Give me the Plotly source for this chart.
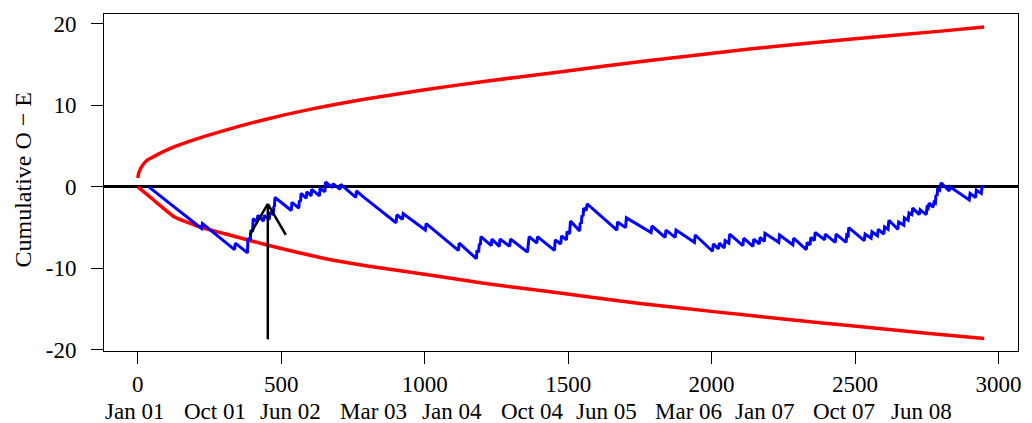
import plotly.graph_objects as go

# ---------------- data ----------------
upper_t = [0, 3, 12, 30, 60, 100, 150, 216, 300, 448, 600, 800, 1000, 1200, 1470, 1784, 2132, 2481, 2800, 2950]
upper_v = [1.1, 1.7, 2.4, 3.2, 3.8, 4.5, 5.2, 6.0, 6.9, 8.3, 9.5, 10.8, 11.9, 12.9, 14.1, 15.5, 16.9, 18.1, 19.1, 19.6]

lower_t = [0, 58, 128, 215, 320, 447, 668, 800, 1017, 1200, 1465, 1750, 2007, 2250, 2505, 2750, 2950]
lower_v = [0, -1.7, -3.7, -4.9, -5.9, -7.1, -8.9, -9.7, -10.8, -11.8, -13.0, -14.3, -15.3, -16.2, -17.1, -17.95, -18.6]

blue_t = [38, 203, 222, 225, 337, 340, 382, 384, 392, 394, 400, 402, 416, 418, 438, 440,
          458, 460, 472, 474, 476, 478, 535, 537, 561, 563, 567, 569, 587, 589, 604, 606,
          633, 635, 652, 654, 678, 680, 705, 707, 760, 762, 785, 900, 903, 922, 925, 1002,
          1005, 1117, 1120, 1180, 1182, 1188, 1190, 1194, 1196, 1232, 1234, 1260, 1262, 1296,
          1299, 1358, 1360, 1362, 1364, 1391, 1393, 1452, 1455, 1474, 1477, 1494, 1496, 1505,
          1508, 1540, 1542, 1546, 1548, 1552, 1554, 1563, 1566, 1670, 1672, 1700, 1703, 1789,
          1792, 1838, 1841, 1873, 1876, 1940, 1943, 2003, 2006, 2024, 2027, 2044, 2047, 2060,
          2063, 2109, 2112, 2144, 2147, 2166, 2169, 2184, 2186, 2234, 2237, 2283, 2286, 2330,
          2333, 2343, 2346, 2358, 2361, 2394, 2396, 2431, 2434, 2469, 2471, 2476, 2478, 2532,
          2535, 2556, 2559, 2578, 2581, 2600, 2603, 2615, 2618, 2649, 2652, 2670, 2672, 2685,
          2688, 2698, 2701, 2724, 2727, 2748, 2751, 2755, 2758, 2772, 2775, 2780, 2782, 2786,
          2788, 2795, 2798, 2800, 2828, 2831, 2898, 2901, 2920, 2923, 2940, 2943, 2950]
blue_v = [0.0, -4.6, -5.1, -4.5, -7.7, -6.9, -8.1, -6.3, -6.5, -5.3, -5.5, -3.9, -4.3, -3.5, -4.2, -3.5,
          -4.0, -3.1, -3.4, -2.4, -2.45, -1.3, -2.9, -1.9, -2.6, -1.7, -1.8, -0.8, -1.4, -0.6, -1.1, -0.3,
          -1.1, -0.2, -0.6, 0.6, -0.1, 0.4, -0.3, 0.3, -1.3, -0.5, -1.2, -4.4, -3.4, -4.0, -3.3, -5.3,
          -4.5, -7.8, -6.9, -8.8, -7.8, -8.0, -7.0, -7.1, -6.1, -7.2, -6.4, -7.3, -6.4, -7.3,
          -6.4, -8.0, -7.0, -7.05, -6.1, -6.9, -6.1, -7.8, -6.5, -7.0, -6.0, -6.5, -5.5, -5.75,
          -4.2, -5.4, -4.4, -4.5, -3.5, -3.6, -2.6, -2.9, -2.1, -5.3, -4.3, -5.0, -3.8, -5.6,
          -4.8, -6.2, -5.3, -6.2, -5.3, -6.8, -5.9, -7.9, -7.0, -7.6, -6.9, -7.5, -6.6, -6.9,
          -5.8, -7.2, -6.3, -7.3, -6.4, -7.0, -6.2, -6.7, -5.7, -6.8, -5.9, -7.1, -6.3, -7.7,
          -6.8, -7.1, -6.2, -6.6, -5.6, -6.5, -5.8, -6.8, -5.8, -6.8, -5.9, -6.0, -5.0, -6.6,
          -5.8, -6.3, -5.5, -6.0, -5.2, -5.8, -4.9, -5.2, -4.1, -5.2, -4.3, -4.7, -3.8, -4.1,
          -3.2, -3.4, -2.6, -3.4, -2.8, -3.4, -2.5, -2.6, -2.0, -2.5, -1.9, -2.0, -1.0, -1.1,
          -0.2, -0.4, 0.5, 0.5, -0.5, 0.0, -1.6, -0.8, -1.3, -0.4, -0.8, 0.1, -0.1]

x_ticks = [0, 500, 1000, 1500, 2000, 2500, 3000]
y_ticks = [-20, -10, 0, 10, 20]

date_pos = [-10, 269, 531, 822, 1094, 1373, 1634, 1920, 2183, 2462, 2732]
date_labels = ["Jan 01", "Oct 01", "Jun 02", "Mar 03", "Jan 04", "Oct 04",
               "Jun 05", "Mar 06", "Jan 07", "Oct 07", "Jun 08"]

arrow_x = 453
arrow_tip = -2.1
arrow_base = -18.7

y_title = "Cumulative O \u2212 E"

# ---------------- layout constants ----------------
# the page body has an 8px default margin, so the figure is sized to fit the window
W, H = 1024, 415
ML, MR, MT, MB = 96, 14, 4, 72
XR = [-118, 3068]
YR = [-20.13, 21.2]
FONT = "Liberation Serif, Times New Roman, serif"
FS = 23

fig = go.Figure()
fig.add_trace(go.Scatter(x=upper_t, y=upper_v, mode="lines",
                         line=dict(color="#ff0000", width=3.5, shape="spline", smoothing=0.6),
                         hoverinfo="skip"))
fig.add_trace(go.Scatter(x=lower_t, y=lower_v, mode="lines",
                         line=dict(color="#ff0000", width=3.5, shape="spline", smoothing=0.4),
                         hoverinfo="skip"))
fig.add_trace(go.Scatter(x=blue_t, y=blue_v, mode="lines",
                         line=dict(color="#0000ff", width=3),
                         hoverinfo="skip"))

# arrow (shaft + two barbs, R-style open head)
pw = W - ML - MR
ph = H - MT - MB
xu = (XR[1] - XR[0]) / pw   # data units per pixel
yu = (YR[1] - YR[0]) / ph
barb_dx, barb_dy = 18, 31
shapes = [
    dict(type="line", xref="x", yref="y", x0=arrow_x, x1=arrow_x, y0=arrow_base, y1=arrow_tip,
         line=dict(color="black", width=2.5)),
    dict(type="line", xref="x", yref="y", x0=arrow_x, y0=arrow_tip,
         x1=arrow_x - barb_dx * xu, y1=arrow_tip - barb_dy * yu,
         line=dict(color="black", width=2.5)),
    dict(type="line", xref="x", yref="y", x0=arrow_x, y0=arrow_tip,
         x1=arrow_x + barb_dx * xu, y1=arrow_tip - barb_dy * yu,
         line=dict(color="black", width=2.5)),
]

annotations = []
for p, lab in zip(date_pos, date_labels):
    annotations.append(dict(x=p, y=0, xref="x", yref="paper", text=lab, showarrow=False,
                            xanchor="center", yanchor="middle", yshift=-60,
                            font=dict(family=FONT, size=FS, color="black")))
annotations.append(dict(x=0, y=0.5, xref="paper", yref="paper", text=y_title, showarrow=False,
                        textangle=-90, xanchor="center", yanchor="middle", xshift=-82, yshift=3,
                        font=dict(family=FONT, size=24, color="black")))

axis_common = dict(showgrid=False, showline=True, mirror=True, linecolor="black", linewidth=1,
                   ticks="outside", ticklen=12, tickwidth=1, tickcolor="black",
                   tickfont=dict(family=FONT, size=FS, color="black"))

fig.update_layout(
    width=W, height=H,
    margin=dict(l=ML, r=MR, t=MT, b=MB, pad=0),
    paper_bgcolor="white", plot_bgcolor="white",
    showlegend=False,
    xaxis=dict(range=XR, tickvals=x_ticks, ticktext=[str(v) for v in x_ticks],
               zeroline=False, **axis_common),
    yaxis=dict(range=YR, tickvals=y_ticks, ticktext=[str(v) for v in y_ticks],
               zeroline=True, zerolinecolor="black", zerolinewidth=2.5,
               ticklabelstandoff=10, **axis_common),
    shapes=shapes,
    annotations=annotations,
)

fig.write_html("out.html")
